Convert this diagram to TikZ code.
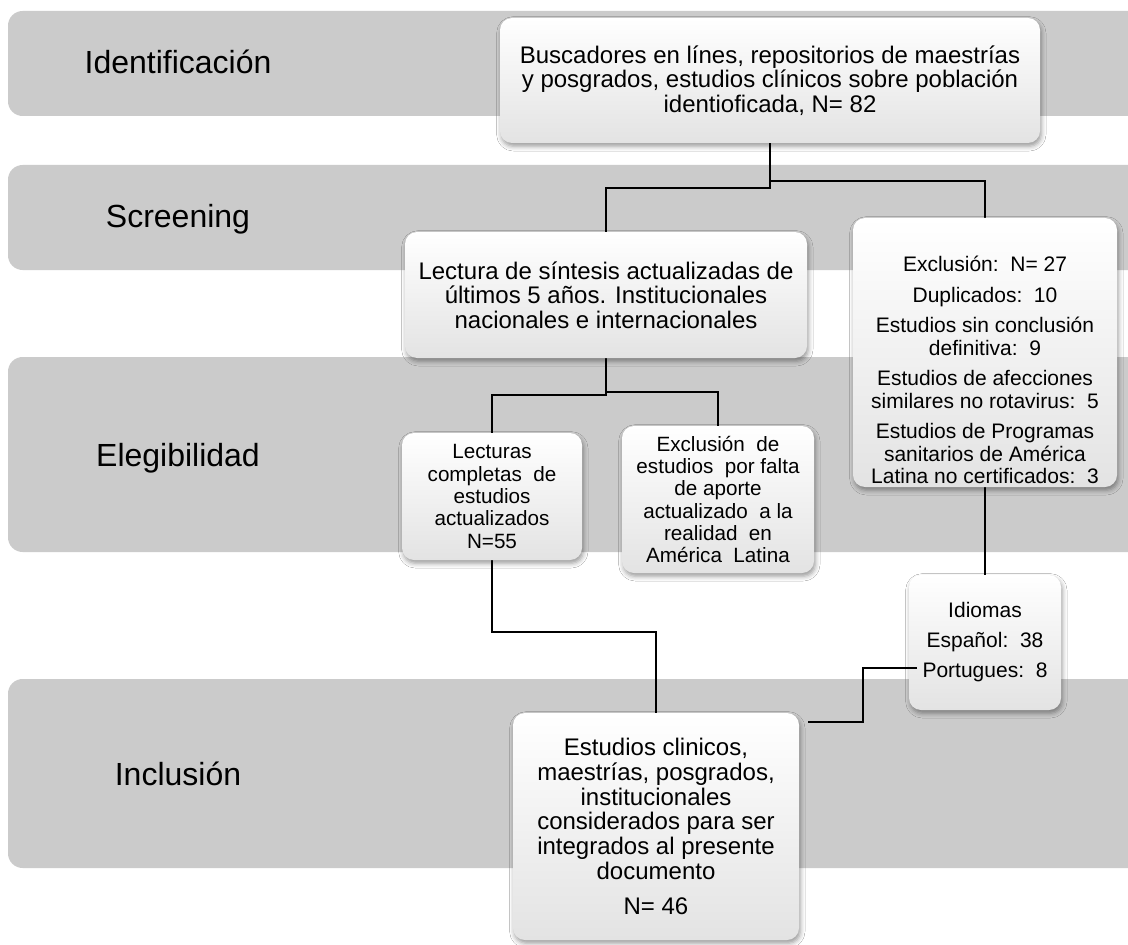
\documentclass[tikz,border=0pt]{standalone}
\usepackage{fontspec}
\setmainfont{Liberation Sans}
\usetikzlibrary{shadows.blur,backgrounds}
\definecolor{bandgray}{RGB}{203,203,203}
\begin{document}
\begin{tikzpicture}[x=0.75pt,y=-0.75pt,
  bandsty/.style={fill=bandgray, draw=none, rounded corners=11pt},
  boxsty/.style={draw=none, rounded corners=9pt, top color=white, bottom color=black!11,
    align=center, inner sep=2pt,
    blur shadow={shadow xshift=1pt, shadow yshift=-2.5pt, shadow blur radius=3.5pt, shadow opacity=40}},
  bigtxt/.style={font=\fontsize{18}{18.5}\selectfont},
  midtxt/.style={font=\fontsize{15.5}{16.7}\selectfont},
  lblsty/.style={font=\fontsize{24}{28}\selectfont, anchor=base},
  conn/.style={line width=1.6pt, black},
  thinconn/.style={line width=0.8pt, black}]
\useasboundingbox (0,0) rectangle (1128,945);
\clip (0,0) rectangle (1128,945);

% band labels
\node[lblsty] (lid) at (178,74) {Identificación};
\node[lblsty] (lsc) at (178,228) {Screening};
\node[lblsty] (lel) at (178,466) {Elegibilidad};
\node[lblsty] (lin) at (178,785) {Inclusión};

% boxes
\node[boxsty, bigtxt, minimum width=405pt, minimum height=93.75pt] (top) at (770,80.5)
  {Buscadores en línes, repositorios de maestrías\\y posgrados, estudios clínicos sobre población\\identioficada, N= 82};
\node[boxsty, bigtxt, minimum width=301.5pt, minimum height=94.5pt] (lect) at (606,295)
  {Lectura de síntesis actualizadas de\\últimos 5 años. Institucionales\\nacionales e internacionales};
\node[boxsty, font=\fontsize{15.75}{16.9}\selectfont, minimum width=198pt, minimum height=201.75pt] (excl) at (985,352.5)
  {\rule{0pt}{38pt}Exclusión:\ \ N= 27\\[6pt]Duplicados:\ \ 10\\[6pt]Estudios sin conclusión\\definitiva:\ \ 9\\[6pt]Estudios de afecciones\\similares no rotavirus:\ \ 5\\[6pt]Estudios de Programas\\sanitarios de América\\Latina no certificados:\ \ 3};
\node[boxsty, midtxt, minimum width=135pt, minimum height=95.25pt] (lec2) at (492,496.5)
  {Lecturas\\completas\ \ de\\estudios\\actualizados\\N=55};
\node[boxsty, midtxt, minimum width=144pt, minimum height=110.25pt] (exd) at (718,499.5)
  {Exclusión\ \ de\\estudios\ \ por falta\\de aporte\\actualizado\ \ a la\\realidad\ \ en\\América\ \ Latina};
\node[boxsty, font=\fontsize{15.75}{22.5}\selectfont, minimum width=114pt, minimum height=101.25pt] (idi) at (985,642.5)
  {Idiomas\\Español:\ \ 38\\Portugues:\ \ 8};
\node[boxsty, bigtxt, minimum width=214.5pt, minimum height=170.25pt] (fin) at (656,826.5)
  {Estudios clinicos,\\maestrías, posgrados,\\institucionales\\considerados para ser\\integrados al presente\\documento\\[8pt]N= 46};

% junction coordinates
\coordinate (j1) at (770,188);
\coordinate (j2) at (770,181);
\coordinate (j3) at (606,395);
\coordinate (j4) at (606,392);
\coordinate (j5) at (656,632);

\begin{scope}[on background layer]
  \fill[white] (0,0) rectangle (1128,945);
  % bands
  \fill[bandsty] (8,11) rectangle (1160,116);
  \fill[bandsty] (8,165) rectangle (1160,270);
  \fill[bandsty] (8,357) rectangle (1160,552);
  \fill[bandsty] (8,679) rectangle (1160,868);
  % connectors
  \draw[conn] (top.south) -- (j1) -| (lect.north);
  \draw[conn] (j2) -| (excl.north);
  \draw[conn] (lect.south) -- (j3) -| (lec2.north);
  \draw[conn] (j4) -| (exd.north);
  \draw[conn] (lec2.south) |- (j5) -- (fin.north);
  \draw[conn] (excl.south) -- (idi.north);
\end{scope}

% thin connector
\coordinate (pA) at (917,668);
\coordinate (pK1) at (863,668);
\coordinate (pK2) at (863,722);
\coordinate (pB) at (808,722);
\draw[thinconn] (pA) -- (pK1) -- (pK2) -- (pB);
\end{tikzpicture}
\end{document}
